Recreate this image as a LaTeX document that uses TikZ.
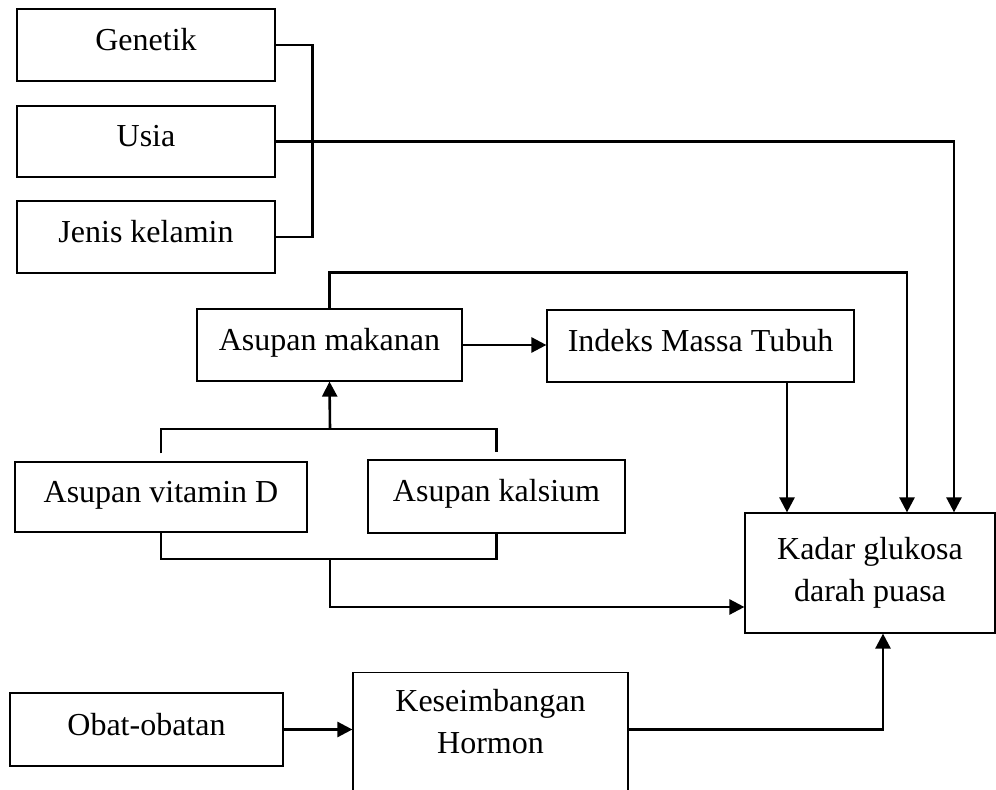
\documentclass[tikz,border=0pt]{standalone}
\usepackage{fontspec}
\setmainfont{Liberation Serif}
\usepackage{tikz}
\usetikzlibrary{arrows.meta}

\begin{document}
\begin{tikzpicture}[x=0.5pt,y=-0.5pt,>={Triangle[length=7.5pt,width=7.5pt]},
	line width=1.3pt,font=\fontsize{16}{21}\selectfont]
	
	\tikzstyle{twoline}=[draw,line width=0.6pt,align=center,inner sep=0pt]
	\tikzstyle{box}=[twoline,text height=11pt,text depth=5.5pt]
	
	\useasboundingbox (0,0) rectangle (996,790);
	
	\node (G) [box,minimum width=129pt,minimum height=36pt]     at (146,45)      {Genetik};
	\node (U) [box,minimum width=129pt,minimum height=35.5pt]   at (146,141.5)   {Usia};
	\node (J) [box,minimum width=129pt,minimum height=36pt]     at (146,237)     {Jenis kelamin};
	\node (M) [box,minimum width=132.5pt,minimum height=36pt]   at (329.5,345)   {Asupan makanan};
	\node (I) [box,minimum width=153.5pt,minimum height=36pt]   at (700.5,346)   {Indeks Massa Tubuh};
	\node (V) [box,minimum width=146pt,minimum height=35pt]     at (161,497)     {Asupan vitamin D};
	\node (C) [box,minimum width=128.5pt,minimum height=36.5pt] at (496.5,496.5) {Asupan kalsium};
	\node (K) [twoline,minimum width=125pt,minimum height=60pt] at (870,573)     {Kadar glukosa\\darah puasa};
	\node (O) [box,minimum width=136.5pt,minimum height=36.5pt] at (146.5,729.5) {Obat-obatan};
	\node (H) [twoline,minimum width=137.5pt,anchor=north,inner ysep=8.5pt,text depth=25pt]
	at (490.5,672) {Keseimbangan\\Hormon};
	
	\coordinate (jt) at (330,429);
	\coordinate (jb) at (330,559);
	
	\draw (G.east) -- ++(37,0) |- (J.east);
	\draw [->] (U.east) -| ([xshift=42pt]K.north);
	\draw [->] (M.north) -- ++(0,-36) -| ([xshift=18.5pt]K.north);
	\draw [->] (M.east) -- (I.west |- M.east);
	\draw [->] ([xshift=-41.5pt]K.north |- I.south) -- ([xshift=-41.5pt]K.north);
	
	\draw ([yshift=4pt]V.north) |- (jt) -| ([yshift=3.5pt]C.north);
	\draw [->] (jt) -- (M.south);
	\draw (V.south) |- (jb) -| (C.south);
	\draw [->] (jb) |- ([yshift=-17pt]K.west);
	
	\draw [->] (O.east) -- (H.west |- O.east);
	\draw [->] (H.east |- O.east) -| ([xshift=6.5pt]K.south);
\end{tikzpicture}
\end{document}
